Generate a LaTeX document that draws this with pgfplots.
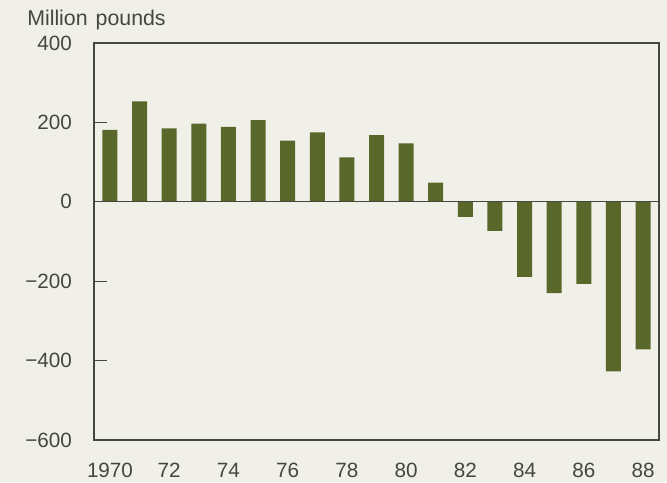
\documentclass[border=0pt]{standalone}
\usepackage{pgfplots}
\pgfplotsset{compat=1.18}
\usepackage{fontspec}
\setmainfont{Liberation Sans}

\definecolor{bgcol}{HTML}{F1F0E8}
\definecolor{barcol}{HTML}{5A672B}
\definecolor{framecol}{HTML}{45463C}

\begin{document}
\begin{tikzpicture}
  % page background, fixes the picture size (667x482 px at 0.75pt/px)
  \fill[bgcol] (-70.5pt,-31.5pt) rectangle (429.75pt,330pt);
  \useasboundingbox (-70.5pt,-31.5pt) rectangle (429.75pt,330pt);

  \begin{axis}[
      at={(0,0)}, anchor=south west,
      scale only axis,
      width=423.75pt, height=297.75pt,
      xmin=1969.46, xmax=1988.54,
      ymin=-600, ymax=400,
      ybar, bar width=11.25pt,
      axis line style={framecol, line width=1.1pt},
      xtick={1970,1972,...,1988},
      xticklabels={1970,72,74,76,78,80,82,84,86,88},
      ytick={-600,-400,...,400},
      yticklabels={−600,−400,−200,0,200,400},
      ytick pos=left,
      major x tick style={draw=none},
      major y tick style={framecol, line width=0.9pt},
      tick align=inside,
      major tick length=10pt,
      ticklabel style={font=\fontsize{15.5}{18}\selectfont, text=framecol},
      yticklabel style={xshift=-13pt},
      xticklabel style={yshift=-14pt},
      extra y ticks={0},
      extra y tick labels={},
      extra y tick style={grid=major, major grid style={framecol, line width=0.9pt}},
      axis on top,
      clip=false,
    ]
    \addplot[fill=barcol, draw=none] coordinates {
      (1970,181) (1971,253) (1972,185) (1973,197) (1974,189)
      (1975,206) (1976,154) (1977,175) (1978,112) (1979,168)
      (1980,147) (1981,48)  (1982,-38) (1983,-73) (1984,-189)
      (1985,-230) (1986,-207) (1987,-427) (1988,-372)
    };
  \end{axis}

  \node[anchor=base west, inner sep=0pt, text=framecol, font=\fontsize{16}{18}\selectfont]
    at (-50.25pt,310.5pt) {Million\hspace{6pt}pounds};
\end{tikzpicture}
\end{document}
